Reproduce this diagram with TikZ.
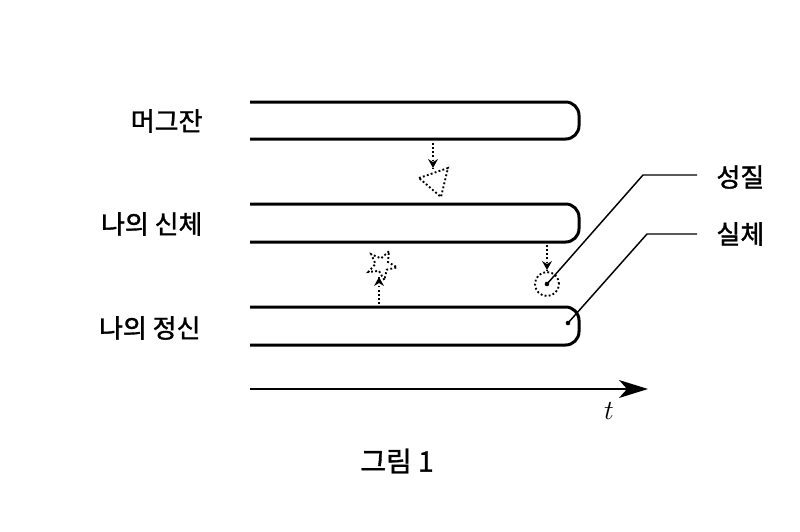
\documentclass[tikz,border=0pt]{standalone}
\usepackage{fontspec}
\newfontfamily\krfont[FakeBold=1.4]{Noto Sans CJK KR}
\usetikzlibrary{shapes.geometric}

\tikzset{every picture/.style={line width=0.75pt}}
\tikzset{
  lbl/.style={font=\krfont\fontsize{19.5}{23}\selectfont, inner sep=0},
  bar/.style={line width=2.25, rounded corners=10},
  dotline/.style={dash pattern=on 1.4pt off 1.7pt, line width=1.4},
  leader/.style={line width=1.1}
}

\begin{document}
\begin{tikzpicture}[x=0.75pt,y=0.75pt,yscale=-1,xscale=1]
	\path [use as bounding box] (0,0) rectangle (800,532);

	%Shape: Bar [mug]
	\draw [bar] (250,102) -- (579,102) -- (579,139) -- (250,139) ;
	%Shape: Bar [body]
	\draw [bar] (250,204) -- (579,204) -- (579,242) -- (250,242) ;
	%Shape: Bar [mind]
	\draw [bar] (250,307) -- (579,307) -- (579,345) -- (250,345) ;

	%Shape: Triangle
	\draw [dotline] (419,178) -- (448,168) -- (441,197) -- cycle ;
	%Shape: Star
	\node (star) [star, star points=5, star point ratio=2.3, draw, dotline, minimum size=23, inner sep=0, rotate=-27] at (382,265) {};
	%Shape: Circle
	\node (circ) [circle, draw, dotline, minimum size=18, inner sep=0] at (547,284) {};
	\fill (circ.center) circle (2.3) ;
	\coordinate (subst) at (568,323) ;
	\fill (subst) circle (2.3) ;

	%Straight Lines [mug to triangle]
	\coordinate (mugout) at (433,143) ;
	\coordinate (triin) at (433,168) ;
	\draw [dotline] (mugout) -- (triin) ;
	\draw [shift={(triin)}, rotate = 270] [fill=black][line width=0.08] [draw opacity=0] (9,-5) -- (0,0) -- (9,5) -- (6,0) -- cycle ;
	%Straight Lines [mind to star]
	\coordinate (mindout) at (379,304) ;
	\coordinate (starin) at (379,277) ;
	\draw [dotline] (mindout) -- (starin) ;
	\draw [shift={(starin)}, rotate = 90] [fill=black][line width=0.08] [draw opacity=0] (9,-5) -- (0,0) -- (9,5) -- (6,0) -- cycle ;
	%Straight Lines [body to circle]
	\coordinate (bodyout) at (547,245) ;
	\coordinate (circin) at (547,270) ;
	\draw [dotline] (bodyout) -- (circin) ;
	\draw [shift={(circin)}, rotate = 270] [fill=black][line width=0.08] [draw opacity=0] (9,-5) -- (0,0) -- (9,5) -- (6,0) -- cycle ;

	%Straight Lines [leaders]
	\coordinate (kp) at (643,175) ;
	\coordinate (kpe) at (697,175) ;
	\draw [leader] (circ.center) -- (kp) -- (kpe) ;
	\coordinate (ks) at (647,234) ;
	\coordinate (kse) at (697,234) ;
	\draw [leader] (subst) -- (ks) -- (kse) ;

	%Straight Lines [time axis]
	\coordinate (t0) at (250,389) ;
	\coordinate (t1) at (648,389) ;
	\draw [line width=1.5] (t0) -- ([xshift=-10]t1) ;
	\draw [shift={(t1)}, rotate = 180] [fill=black][line width=0.08] [draw opacity=0] (29,-9) -- (0,0) -- (29,9) -- (21,0) -- cycle ;

	% Text Node
	\draw (203,121) node (mug) [lbl, anchor=east] {머그잔};
	% Text Node
	\draw (203,224) node (body) [lbl, anchor=east] {나의 신체};
	% Text Node
	\draw (201,328) node (mind) [lbl, anchor=east] {나의 정신};
	% Text Node
	\draw (716,177) node (prop) [lbl, anchor=west] {성질};
	% Text Node
	\draw (716,234) node (substlbl) [lbl, anchor=west] {실체};
	% Text Node
	\draw (609,411) node (tlbl) {\fontsize{20}{24}\selectfont $t$};
	% Text Node
	\draw (397,461) node (caption) [lbl, font=\krfont\fontsize{21}{25}\selectfont] {그림 1};

\end{tikzpicture}
\end{document}
